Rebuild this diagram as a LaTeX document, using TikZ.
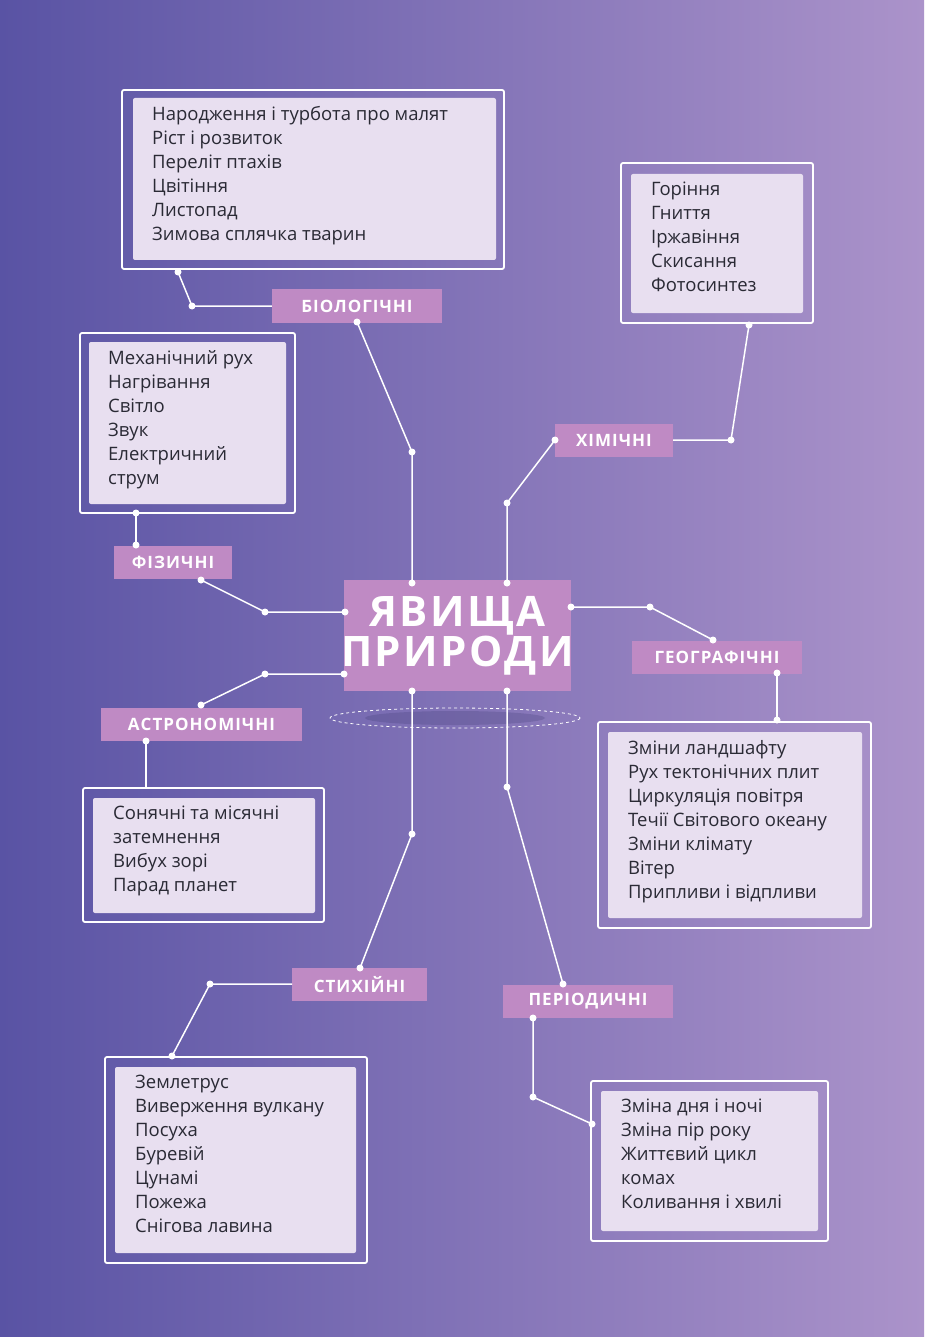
\documentclass[tikz,border=0pt]{standalone}
\usepackage{fontspec}
\setmainfont{Open Sans}
\newfontfamily\lblfont[LetterSpace=6]{Open Sans}
\usetikzlibrary{calc}
\definecolor{bgL}{HTML}{5953A4}
\definecolor{bgR}{HTML}{AB93CA}
\definecolor{inner}{HTML}{E8DFF0}
\definecolor{lab}{HTML}{BF8AC4}
\definecolor{txt}{HTML}{2A2A35}
\begin{document}
\begin{tikzpicture}[x=1pt,y=-1pt,
  outer/.style={draw=white,line width=1.8pt,rounded corners=2pt},
  innerbox/.style={fill=inner,rounded corners=2pt},
  lst/.style={anchor=north west,inner sep=0pt,align=left,text=txt,font=\fontsize{18.5}{24}\selectfont},
  lbl/.style={fill=lab,text=white,inner sep=0pt,font=\lblfont\bfseries\fontsize{17}{17}\selectfont},
  con/.style={draw=white,line width=1.5pt},
  dot/.style={circle,fill=white,inner sep=0pt,minimum size=7pt}]
\useasboundingbox (0,0) rectangle (924,1337);
\shade[left color=bgL,right color=bgR] (0,0) rectangle (924,1337);
% center
\draw[white,dashed,line width=0.8pt] (455,718) ellipse (125 and 10);
\fill[bgL!70!black,opacity=0.25] (455,718) ellipse (90 and 7);
\node[fill=lab,minimum width=227pt,minimum height=111pt,inner sep=0pt] (c) at (457.5,635.5) {};
\node[text=white,font=\lblfont\bfseries\fontsize{42}{40}\selectfont,align=center] (ct) at (457.5,636) {ЯВИЩА\\ПРИРОДИ};
% Bio
\draw[outer] (122,90) rectangle (504,269);
\fill[innerbox] (133,98) rectangle (496,260);
\node[lst] (bl) at (152,106) {Народження і турбота про малят\\Ріст і розвиток\\Переліт птахів\\Цвітіння\\Листопад\\Зимова сплячка тварин};
\node[lbl,minimum width=170pt,minimum height=33pt] (bio) at (357,306) {БІОЛОГІЧНІ};
% Chem
\draw[outer] (621,163) rectangle (813,323);
\fill[innerbox] (631,174) rectangle (803,313);
\node[lst] (hl) at (651,182) {Горіння\\Гниття\\Іржавіння\\Скисання\\Фотосинтез};
\node[lbl,minimum width=118pt,minimum height=33pt] (chem) at (614,440) {ХІМІЧНІ};
% Phys
\draw[outer] (80,333) rectangle (295,513);
\fill[innerbox] (89,342) rectangle (286,504);
\node[lst] (fl) at (108,350) {Механічний рух\\Нагрівання\\Світло\\Звук\\Електричний\\струм};
\node[lbl,minimum width=118pt,minimum height=33pt] (phys) at (173,562) {ФІЗИЧНІ};
% Geo
\node[lbl,minimum width=170pt,minimum height=33pt] (geo) at (717,657) {ГЕОГРАФІЧНІ};
\draw[outer] (598,722) rectangle (871,928);
\fill[innerbox] (608,732) rectangle (862,918);
\node[lst] (gl) at (628,740) {Зміни ландшафту\\Рух тектонічних плит\\Циркуляція повітря\\Течії Світового океану\\Зміни клімату\\Вітер\\Припливи і відпливи};
% Astro
\node[lbl,minimum width=201pt,minimum height=33pt] (astro) at (201.5,724) {АСТРОНОМІЧНІ};
\draw[outer] (83,788) rectangle (324,922);
\fill[innerbox] (93,798) rectangle (315,913);
\node[lst] (al) at (113,806) {Сонячні та місячні\\затемнення\\Вибух зорі\\Парад планет};
% Stix
\node[lbl,minimum width=135pt,minimum height=33pt] (stix) at (359.5,984.5) {СТИХІЙНІ};
\draw[outer] (105,1057) rectangle (367,1263);
\fill[innerbox] (115,1067) rectangle (356,1253);
\node[lst] (sl) at (135,1075) {Землетрус\\Виверження вулкану\\Посуха\\Буревій\\Цунамі\\Пожежа\\Снігова лавина};
% Period
\node[lbl,minimum width=170pt,minimum height=33pt] (per) at (588,1001.5) {ПЕРІОДИЧНІ};
\draw[outer] (591,1081) rectangle (828,1241);
\fill[innerbox] (601,1091) rectangle (818,1231);
\node[lst] (pl) at (621,1099) {Зміна дня і ночі\\Зміна пір року\\Життєвий цикл\\комах\\Коливання і хвилі};
% connector points
\foreach \n/\x/\y in {b1/178/272,b2/192/306,b3/357/322,b4/412/452,b5/412/583,
  h1/749/325,h2/731/440,h3/555/440,h4/507/503,h5/507/583,
  f1/136/513,f2/136/545,f3/201/580,f4/265/612,f5/345/612,
  g1/571/607,g2/650/607,g3/713/640,g4/777/673,g5/777/720,
  a1/344/674,a2/265/674,a3/201/705,a4/146/741,a5/146/788,
  s1/412/691,s2/412/834,s3/360/968,s4/292/984,s5/210/984,s6/172/1056,
  p1/507/691,p2/507/787,p3/563/984,p4/533/1018,p5/533/1097,p6/592/1124}
  {\coordinate (\n) at (\x,\y);}
\draw[con] (b1)--(b2)--(bio.west);
\draw[con] (b3)--(b4)--(b5);
\draw[con] (h1)--(h2)--(chem.east);
\draw[con] (h3)--(h4)--(h5);
\draw[con] (f1)--(f2);
\draw[con] (f3)--(f4)--(f5);
\draw[con] (g1)--(g2)--(g3);
\draw[con] (g4)--(g5);
\draw[con] (a1)--(a2)--(a3);
\draw[con] (a4)--(a5);
\draw[con] (s1)--(s2)--(s3);
\draw[con] (s4)--(s5)--(s6);
\draw[con] (p1)--(p2)--(p3);
\draw[con] (p4)--(p5)--(p6);
\foreach \n in {b1,b2,b3,b4,b5,h1,h2,h3,h4,h5,f1,f2,f3,f4,f5,g1,g2,g3,g4,g5,a1,a2,a3,a4,s1,s2,s3,s5,s6,p1,p2,p3,p4,p5,p6}
  \node[dot] at (\n) {};
\end{tikzpicture}
\end{document}
